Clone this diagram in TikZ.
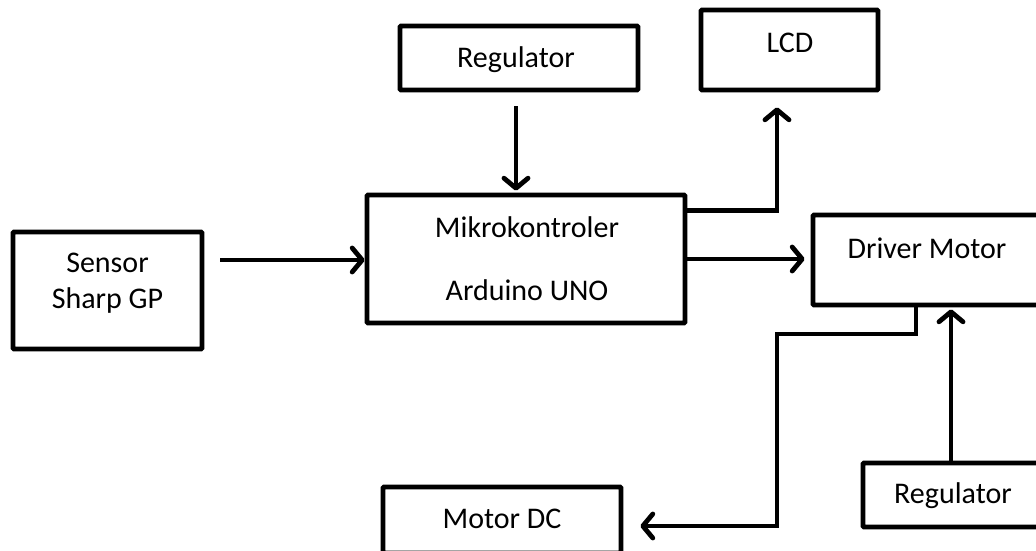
\documentclass[tikz,border=0pt]{standalone}
\usepackage{fontspec}
\setmainfont{Carlito}
\usetikzlibrary{arrows.meta,calc}
\begin{document}
\begin{tikzpicture}[x=1pt,y=-1pt,
  box/.style={draw=black,line width=4.8pt,fill=white,inner sep=0pt,rounded corners=1pt},
  lbl/.style={font=\fontsize{30}{36}\selectfont,align=center,inner sep=0pt},
  arr/.style={line width=4.8pt,-{Straight Barb[length=10pt,width=24pt,line cap=round,line join=round]}}]
\useasboundingbox (0,0) rectangle (1036,551);
\clip (0,0) rectangle (1036,551);
\fill[white] (0,0) rectangle (1036,551);
% boxes
\node[box,minimum width=189pt,minimum height=117pt] (sensor) at (107.5,290.5) {};
\node[box,minimum width=238pt,minimum height=64pt] (regtop) at (519,58) {};
\node[box,minimum width=177pt,minimum height=80pt] (lcd) at (789.5,50) {};
\node[box,minimum width=318pt,minimum height=128pt] (mikro) at (526,259) {};
\node[box,minimum width=229pt,minimum height=90pt] (driver) at (927.5,260) {};
\node[box,minimum width=180pt,minimum height=64pt] (regbot) at (953,495) {};
\node[box,minimum width=238pt,minimum height=66pt] (motordc) at (502,520) {};
% texts
\node[lbl] (sensortext) at (107.5,283) {Sensor\\Sharp GP};
\node[lbl] (regtoptext) at (516,60) {Regulator};
\node[lbl] (lcdtext) at (790,43) {LCD};
\node[lbl] (mikrotext) at (527,259) {Mikrokontroler\\[27pt]Arduino UNO};
\node[lbl] (drivertext) at (927,248) {Driver Motor};
\node[lbl] (regbottext) at (953,496) {Regulator};
\node[lbl] (motordctext) at (502,519) {Motor DC};
% connectors
\coordinate (bend) at (777,334);
\draw[arr] ($(sensor.east)+(16,-30.5)$) -- ($(mikro.west)+(0,1)$);
\draw[arr] ($(regtop.south)+(-3,14)$) -- ($(mikro.north)+(-10,-2)$);
\draw[arr] ($(mikro.north east)+(0,18)$) -| ($(lcd.south)+(-12.5,15)$);
\draw[arr] (mikro.east) -- ($(driver.west)+(-6,-1)$);
\draw[arr] ($(driver.south)+(-11.5,0)$) |- (bend) |- ($(motordc.east)+(17,6)$);
\draw[arr] ($(regbot.north)+(-2,0)$) -- ($(driver.south)+(23.5,2)$);
\end{tikzpicture}
\end{document}
